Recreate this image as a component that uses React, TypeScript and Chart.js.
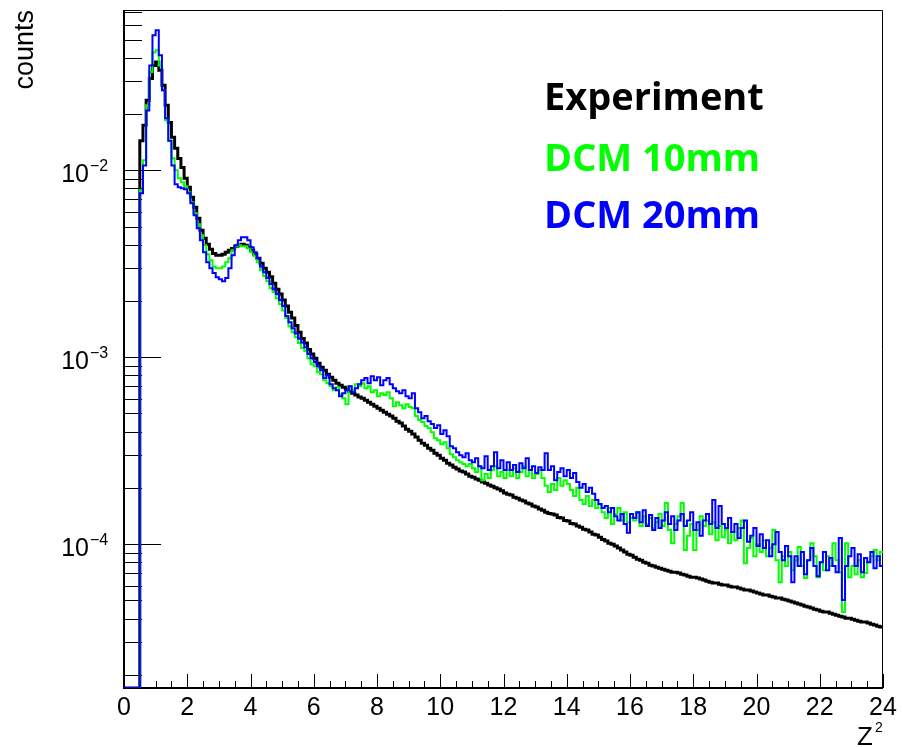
import React, { useEffect, useRef } from "react";
import { Chart, registerables } from "chart.js";

Chart.register(...registerables);

// Histogram binning (bin lower edges start at binStart, uniform width)
const binStart = 0.5;
const binWidth = 0.1;
const xMin = 0;
const xMax = 24;
const yMin = 1.7e-5;
const yMax = 0.072;

const xTickValues = [0, 2, 4, 6, 8, 10, 12, 14, 16, 18, 20, 22, 24];
const yTickExponents = [-2, -3, -4];
const seriesNames = ["Experiment", "DCM 10mm", "DCM 20mm"];
const seriesColors = ["#000000", "#00ff00", "#0000ff"];
const yAxisTitle = "counts";
const xAxisTitle = "Z";
const xAxisTitleSup = "2";

// Experiment (black)
const experiment = [
  0.0144, 0.0174, 0.0237, 0.031, 0.0364, 0.0379, 0.0343, 0.0285, 0.0223, 0.018,
  0.015, 0.0131, 0.01157, 0.01034, 0.00906, 0.00812, 0.00717, 0.00634, 0.00553, 0.00478,
  0.00433, 0.00402, 0.00378, 0.00359, 0.00351, 0.00351, 0.00355, 0.00364, 0.00373, 0.00382,
  0.00392, 0.00397, 0.00402, 0.00397, 0.00387, 0.00373, 0.00355, 0.00338, 0.00318, 0.00299,
  0.00285, 0.00269, 0.00249, 0.00231, 0.00218, 0.00202, 0.00188, 0.00174, 0.00162, 0.00148,
  0.00136, 0.00126, 0.00119, 0.0011, 0.00104, 0.000988, 0.000929, 0.000884, 0.000852, 0.000811,
  0.000782, 0.000753, 0.000726, 0.000708, 0.000691, 0.000674, 0.000658, 0.000642, 0.000627, 0.000612,
  0.000604, 0.000589, 0.000575, 0.000561, 0.000547, 0.000534, 0.000521, 0.000508, 0.000496, 0.000484,
  0.000472, 0.000455, 0.000444, 0.000428, 0.000412, 0.000402, 0.000388, 0.000374, 0.00036, 0.000347,
  0.000338, 0.000326, 0.000318, 0.000306, 0.000299, 0.000288, 0.000281, 0.000271, 0.000265, 0.000258,
  0.000252, 0.000246, 0.000243, 0.000237, 0.000231, 0.000228, 0.000223, 0.00022, 0.000215, 0.000212,
  0.000207, 0.000204, 0.0002, 0.000197, 0.000193, 0.000188, 0.000185, 0.000183, 0.000178, 0.000176,
  0.000172, 0.00017, 0.000166, 0.000164, 0.00016, 0.000158, 0.000154, 0.000152, 0.000148, 0.000146,
  0.000145, 0.000143, 0.000139, 0.000138, 0.000134, 0.000133, 0.000129, 0.000128, 0.000125, 0.000123,
  0.00012, 0.000119, 0.000116, 0.000113, 0.000112, 0.000109, 0.000106, 0.000104, 0.000101, 0.0001,
  9.76e-5, 9.53e-5, 9.29e-5, 9.07e-5, 8.84e-5, 8.73e-5, 8.52e-5, 8.31e-5, 8.21e-5, 8.01e-5,
  7.91e-5, 7.72e-5, 7.63e-5, 7.53e-5, 7.44e-5, 7.35e-5, 7.26e-5, 7.17e-5, 7.08e-5, 7.08e-5,
  7.0e-5, 6.91e-5, 6.83e-5, 6.74e-5, 6.66e-5, 6.66e-5, 6.58e-5, 6.5e-5, 6.42e-5, 6.34e-5,
  6.26e-5, 6.19e-5, 6.19e-5, 6.11e-5, 6.04e-5, 6.04e-5, 5.96e-5, 5.89e-5, 5.89e-5, 5.82e-5,
  5.75e-5, 5.68e-5, 5.68e-5, 5.61e-5, 5.54e-5, 5.47e-5, 5.41e-5, 5.34e-5, 5.34e-5, 5.27e-5,
  5.21e-5, 5.15e-5, 5.15e-5, 5.08e-5, 5.02e-5, 4.96e-5, 4.9e-5, 4.84e-5, 4.78e-5, 4.72e-5,
  4.66e-5, 4.61e-5, 4.55e-5, 4.49e-5, 4.44e-5, 4.38e-5, 4.33e-5, 4.33e-5, 4.27e-5, 4.22e-5,
  4.17e-5, 4.12e-5, 4.07e-5, 4.02e-5, 4.02e-5, 3.97e-5, 3.92e-5, 3.87e-5, 3.83e-5, 3.83e-5,
  3.78e-5, 3.73e-5, 3.69e-5, 3.64e-5, 3.6e-5,
];

// DCM 10mm (green)
const dcm10mm = [
  0.00782, 0.0113, 0.0223, 0.0335, 0.0427, 0.0438, 0.0364, 0.0268, 0.0185, 0.0144,
  0.0116, 0.01, 0.00906, 0.00863, 0.00822, 0.00763, 0.00674, 0.00589, 0.00514, 0.00449,
  0.00397, 0.00355, 0.0033, 0.00306, 0.00299, 0.00299, 0.00306, 0.00322, 0.00338, 0.00373,
  0.00392, 0.00397, 0.00392, 0.00392, 0.00382, 0.00364, 0.00347, 0.00322, 0.00292, 0.00272,
  0.00255, 0.00234, 0.00223, 0.00207, 0.00192, 0.00178, 0.00162, 0.00146, 0.00136, 0.00128,
  0.00119, 0.00112, 0.00108, 0.000988, 0.000918, 0.000895, 0.000831, 0.000811, 0.000753, 0.000726,
  0.0007, 0.000666, 0.000691, 0.000634, 0.000604, 0.000561, 0.0007, 0.000666, 0.000717, 0.0007,
  0.000726, 0.000683, 0.0007, 0.00065, 0.000666, 0.000619, 0.000642, 0.000627, 0.00065, 0.000604,
  0.000547, 0.000575, 0.000554, 0.000534, 0.000561, 0.000541, 0.000534, 0.000484, 0.000461, 0.00045,
  0.000428, 0.000418, 0.000397, 0.000369, 0.00036, 0.000342, 0.000351, 0.000326, 0.000303, 0.000292,
  0.000281, 0.000274, 0.000268, 0.000261, 0.000268, 0.000255, 0.000243, 0.000261, 0.00022, 0.000237,
  0.000226, 0.000249, 0.000261, 0.000231, 0.000243, 0.000226, 0.000249, 0.000231, 0.000255, 0.000226,
  0.000243, 0.000261, 0.000231, 0.000249, 0.000226, 0.000237, 0.000249, 0.000226, 0.000205, 0.00019,
  0.00021, 0.000195, 0.000226, 0.000205, 0.00022, 0.00021, 0.000195, 0.000181, 0.0002, 0.000172,
  0.000164, 0.000181, 0.00016, 0.000172, 0.000156, 0.000164, 0.000148, 0.000138, 0.000156, 0.000128,
  0.000145, 0.000156, 0.000134, 0.000148, 0.000131, 0.000138, 0.000134, 0.000148, 0.000125, 0.000141,
  0.000128, 0.000138, 0.000122, 0.000131, 0.000145, 0.000125, 0.000166, 0.000119, 0.000101, 0.000128,
  0.000141, 0.000166, 9.29e-5, 0.000111, 0.000128, 9.29e-5, 0.000119, 0.000141, 0.000125, 0.000134,
  0.000113, 0.000131, 0.000105, 0.000125, 0.000109, 0.000119, 0.000101, 0.000116, 0.000105, 0.000122,
  0.000134, 7.91e-5, 9.53e-5, 0.000108, 8.62e-5, 0.0001, 9.07e-5, 0.000105, 8.62e-5, 9.53e-5,
  0.000119, 8.21e-5, 6.26e-5, 8.62e-5, 7.63e-5, 9.07e-5, 7.26e-5, 8.21e-5, 9.64e-5, 7.63e-5,
  6.58e-5, 8.21e-5, 0.000101, 8.62e-5, 6.66e-5, 8.01e-5, 7.26e-5, 8.62e-5, 7.63e-5, 0.000101,
  8.21e-5, 7.08e-5, 4.33e-5, 0.000101, 6.66e-5, 7.63e-5, 6.91e-5, 8.21e-5, 6.66e-5, 7.0e-5,
  8.01e-5, 8.62e-5, 9.29e-5, 8.21e-5, 9.07e-5,
];

// DCM 20mm (blue)
const dcm20mm = [
  0.00754, 0.0106, 0.0209, 0.0364, 0.0527, 0.0561, 0.0412, 0.0268, 0.019, 0.0144,
  0.0106, 0.00842, 0.00812, 0.00802, 0.00792, 0.00754, 0.00666, 0.00574, 0.0049, 0.00422,
  0.00364, 0.00322, 0.00299, 0.00282, 0.00268, 0.00261, 0.00255, 0.00265, 0.00299, 0.00351,
  0.00397, 0.00422, 0.00438, 0.00438, 0.00422, 0.00387, 0.00364, 0.00338, 0.00306, 0.00285,
  0.00265, 0.00246, 0.00231, 0.00218, 0.00202, 0.00188, 0.00166, 0.00154, 0.00143, 0.00134,
  0.00126, 0.0012, 0.00113, 0.00104, 0.000988, 0.000942, 0.000895, 0.000852, 0.000773, 0.000801,
  0.000717, 0.000683, 0.000666, 0.000619, 0.000642, 0.000666, 0.0007, 0.00065, 0.000683, 0.000717,
  0.000753, 0.000773, 0.000726, 0.000792, 0.000753, 0.000782, 0.000708, 0.000753, 0.000773, 0.000717,
  0.000683, 0.000658, 0.000642, 0.000666, 0.000619, 0.000604, 0.000642, 0.000534, 0.000508, 0.000472,
  0.000484, 0.000455, 0.000439, 0.000418, 0.000433, 0.000388, 0.000407, 0.000378, 0.000334, 0.000326,
  0.00031, 0.000299, 0.000292, 0.000306, 0.000281, 0.000274, 0.000288, 0.000261, 0.000255, 0.000295,
  0.000249, 0.000261, 0.00031, 0.000255, 0.000281, 0.000249, 0.000274, 0.000249, 0.000265, 0.000243,
  0.000271, 0.000255, 0.000288, 0.000249, 0.000261, 0.00024, 0.000258, 0.000249, 0.000306, 0.000249,
  0.000261, 0.00022, 0.000243, 0.000255, 0.000231, 0.000249, 0.000226, 0.00024, 0.000215, 0.0002,
  0.00021, 0.00019, 0.0002, 0.000186, 0.000172, 0.000164, 0.000156, 0.00016, 0.000148, 0.000156,
  0.000141, 0.000134, 0.000145, 0.000128, 0.000115, 0.000145, 0.000138, 0.000148, 0.000131, 0.000152,
  0.000125, 0.000143, 0.000119, 0.000138, 0.000122, 0.000134, 0.000148, 0.000128, 0.000141, 0.000119,
  0.000134, 0.000145, 0.000125, 0.000134, 0.000148, 0.000119, 0.000131, 0.000111, 0.000134, 0.000145,
  0.000128, 0.000172, 0.000122, 0.00016, 0.000128, 0.000122, 0.000138, 0.000116, 0.000128, 0.000108,
  0.000122, 0.000134, 0.000103, 0.000111, 0.000122, 9.76e-5, 0.000113, 9.53e-5, 0.000105, 8.62e-5,
  0.0001, 0.000116, 9.07e-5, 8.21e-5, 9.76e-5, 8.62e-5, 6.26e-5, 8.62e-5, 7.63e-5, 9.07e-5,
  6.91e-5, 8.21e-5, 9.53e-5, 7.63e-5, 6.74e-5, 8.01e-5, 9.07e-5, 7.26e-5, 8.42e-5, 7.63e-5,
  7.08e-5, 0.000108, 5.02e-5, 7.63e-5, 8.62e-5, 9.53e-5, 7.63e-5, 8.84e-5, 7.08e-5, 8.42e-5,
  8.01e-5, 9.07e-5, 7.44e-5, 8.62e-5, 7.63e-5,
];

// Histogram as step points: empty bins before binStart sit on the frame floor.
function toStepPoints(values: number[]) {
  const pts: { x: number; y: number }[] = [{ x: xMin, y: yMin }];
  values.forEach((v, i) => pts.push({ x: binStart + i * binWidth, y: v }));
  pts.push({ x: binStart + values.length * binWidth, y: values[values.length - 1] });
  return pts;
}

const LABEL_FONT = "'Liberation Sans', Arial, Helvetica, sans-serif";

const rootStyle = {
  id: "rootStyle",
  beforeDatasetsDraw(chart: any) {
    const { ctx, chartArea: a, scales } = chart;
    const x = scales.x;
    const y = scales.y;
    ctx.save();
    ctx.strokeStyle = "#000";
    ctx.lineWidth = 1;
    // x ticks (inward)
    for (let k = 0; k <= (xMax - xMin) * 2; k++) {
      const t = xMin + k * 0.5;
      const px = Math.round(x.getPixelForValue(t)) + 0.5;
      const major = k % 4 === 0;
      const len = major ? 14 : 7;
      ctx.beginPath();
      ctx.moveTo(px, a.bottom);
      ctx.lineTo(px, a.bottom - len);
      ctx.stroke();
    }
    // y ticks (inward)
    for (let e = -6; e <= 0; e++) {
      for (let m = 1; m <= 9; m++) {
        const v = m * Math.pow(10, e);
        if (v < yMin || v > yMax) continue;
        const py = Math.round(y.getPixelForValue(v)) + 0.5;
        const len = m === 1 ? 37 : 18;
        ctx.beginPath();
        ctx.moveTo(a.left, py);
        ctx.lineTo(a.left + len, py);
        ctx.stroke();
      }
    }
    // frame
    ctx.lineWidth = 1;
    ctx.beginPath();
    ctx.moveTo(a.left, a.top + 0.5);
    ctx.lineTo(a.right - 0.5, a.top + 0.5);
    ctx.lineTo(a.right - 0.5, a.bottom);
    ctx.stroke();
    ctx.lineWidth = 2;
    ctx.beginPath();
    ctx.moveTo(a.left, a.top);
    ctx.lineTo(a.left, a.bottom);
    ctx.lineTo(a.right, a.bottom);
    ctx.stroke();
    ctx.restore();
  },
  afterDraw(chart: any) {
    const { ctx, chartArea: a, scales } = chart;
    const x = scales.x;
    const y = scales.y;
    ctx.save();
    ctx.fillStyle = "#000";
    // x labels
    ctx.font = `25px ${LABEL_FONT}`;
    ctx.textAlign = "center";
    ctx.textBaseline = "alphabetic";
    xTickValues.forEach((t) => {
      ctx.fillText(String(t), x.getPixelForValue(t), a.bottom + 27);
    });
    // y labels 10^e
    yTickExponents.forEach((e) => {
      const py = y.getPixelForValue(Math.pow(10, e));
      ctx.font = `25px ${LABEL_FONT}`;
      ctx.textAlign = "right";
      ctx.fillText("10", 89, py + 12);
      ctx.font = `16px ${LABEL_FONT}`;
      ctx.textAlign = "left";
      ctx.fillText("\u2212" + String(-e), 90, py + 1);
    });
    // y axis title (rotated, ends at top of axis)
    ctx.save();
    ctx.translate(33, a.top);
    ctx.rotate(-Math.PI / 2);
    ctx.font = `27px ${LABEL_FONT}`;
    ctx.textAlign = "right";
    ctx.fillText(yAxisTitle, 0, 0);
    ctx.restore();
    // x axis title
    ctx.font = `26px ${LABEL_FONT}`;
    ctx.textAlign = "left";
    ctx.fillText(xAxisTitle, 857, a.bottom + 57);
    ctx.font = `14px ${LABEL_FONT}`;
    ctx.fillText(xAxisTitleSup, 875, a.bottom + 44);
    // legend text
    ctx.font = "bold 38px 'Open Sans', 'DejaVu Sans', sans-serif";
    const baselines = [110, 171, 228];
    seriesNames.forEach((name, i) => {
      ctx.fillStyle = seriesColors[i];
      ctx.fillText(name, 544, baselines[i]);
    });
    ctx.restore();
  },
};

export default function App() {
  const canvasRef = useRef<HTMLCanvasElement | null>(null);

  useEffect(() => {
    const canvas = canvasRef.current;
    if (!canvas) return;
    const chart = new Chart(canvas, {
      type: "line",
      data: {
        datasets: [
          {
            label: seriesNames[0],
            data: toStepPoints(experiment),
            borderColor: seriesColors[0],
            borderWidth: 3,
            stepped: "before",
            pointRadius: 0,
            fill: false,
            order: 2,
          },
          {
            label: seriesNames[1],
            data: toStepPoints(dcm10mm),
            borderColor: seriesColors[1],
            borderWidth: 2,
            stepped: "before",
            pointRadius: 0,
            fill: false,
            order: 1,
          },
          {
            label: seriesNames[2],
            data: toStepPoints(dcm20mm),
            borderColor: seriesColors[2],
            borderWidth: 2,
            stepped: "before",
            pointRadius: 0,
            fill: false,
            order: 0,
          },
        ],
      },
      options: {
        animation: false,
        responsive: false,
        devicePixelRatio: 1,
        events: [],
        layout: { padding: { left: 124, top: 10, right: 19, bottom: 59 } },
        plugins: { legend: { display: false }, tooltip: { enabled: false } },
        scales: {
          x: { type: "linear", min: xMin, max: xMax, display: false },
          y: { type: "logarithmic", min: yMin, max: yMax, display: false },
        },
      },
      plugins: [rootStyle],
    } as any);
    return () => chart.destroy();
  }, []);

  return (
    <div style={{ position: "absolute", left: 0, top: 0, width: 902, height: 747, background: "#fff" }}>
      <canvas ref={canvasRef} width={902} height={747} style={{ display: "block" }} />
    </div>
  );
}
